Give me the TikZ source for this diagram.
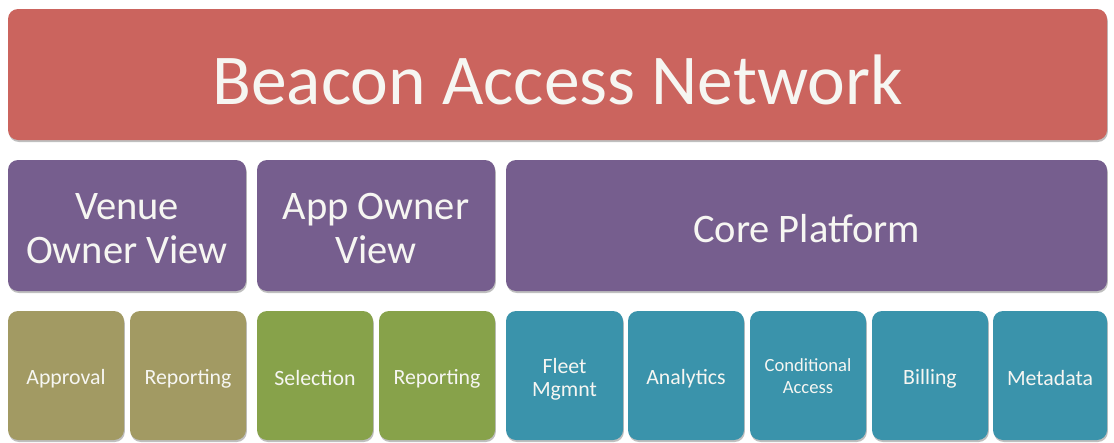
\documentclass[tikz,border=0pt]{standalone}
\usepackage{fontspec}
\setmainfont{Carlito}
\usetikzlibrary{shadows}
\definecolor{banred}{HTML}{CB645E}
\definecolor{banpurple}{HTML}{765E8E}
\definecolor{banolive}{HTML}{A29A63}
\definecolor{bangreen}{HTML}{87A24A}
\definecolor{banteal}{HTML}{3A93AB}
\definecolor{bantext}{HTML}{F6F6F2}
\tikzset{
  tile/.style={rounded corners=10pt, inner sep=0pt,
    drop shadow={shadow xshift=0.8pt, shadow yshift=-2pt, opacity=0.25, fill=black}},
  topbox/.style={tile, fill=banred, minimum width=1099pt, minimum height=131pt},
  midbox/.style={tile, fill=banpurple, minimum height=131pt},
  lowbox/.style={tile, minimum width=116pt, minimum height=129pt},
  tiletext/.style={inner sep=0pt, align=center, text=bantext},
  toptext/.style={tiletext, font=\fontsize{71.5}{84}\selectfont},
  midtext/.style={tiletext, font=\fontsize{40.5}{44}\selectfont},
  lowtext/.style={tiletext, font=\fontsize{21.8}{23}\selectfont},
  condtext/.style={tiletext, font=\fontsize{18.6}{22}\selectfont},
}
\begin{document}
\begin{tikzpicture}[x=1pt,y=-1pt]
\useasboundingbox[fill=white] (0,0) rectangle (1114,442);
\node[topbox] (ban) at (557.5,74.5) {};
\node[midbox, minimum width=238pt] (venue) at (127,225.5) {};
\node[midbox, minimum width=238pt] (app) at (376,225.5) {};
\node[midbox, minimum width=601pt] (core) at (806.5,225.5) {};
\node[lowbox, fill=banolive] (approval) at (66,375.5) {};
\node[lowbox, fill=banolive] (vreport) at (188,375.5) {};
\node[lowbox, fill=bangreen] (selection) at (315,375.5) {};
\node[lowbox, fill=bangreen] (areport) at (437,375.5) {};
\node[lowbox, fill=banteal, minimum width=117pt] (fleet) at (564.5,375.5) {};
\node[lowbox, fill=banteal] (analytics) at (686,375.5) {};
\node[lowbox, fill=banteal] (cond) at (808,375.5) {};
\node[lowbox, fill=banteal] (billing) at (930,375.5) {};
\node[lowbox, fill=banteal, minimum width=114pt] (meta) at (1050,375.5) {};
% texts
\node[toptext] (bantxt) at ([yshift=-5pt]ban.center) {Beacon Access Network};
\node[midtext] (venuetxt) at ([yshift=-3pt]venue.center) {Venue\\Owner View};
\node[midtext] (apptxt) at ([yshift=-3pt]app.center) {App Owner\\View};
\node[midtext] (coretxt) at ([yshift=-3pt]core.center) {Core Platform};
\node[lowtext] (approvaltxt) at ([yshift=-3pt]approval.center) {Approval};
\node[lowtext] (vreporttxt) at ([yshift=-3pt]vreport.center) {Reporting};
\node[lowtext] (selectiontxt) at ([yshift=-3pt]selection.center) {Selection};
\node[lowtext] (areporttxt) at ([yshift=-3pt]areport.center) {Reporting};
\node[lowtext] (fleettxt) at ([yshift=-4pt]fleet.center) {Fleet\\Mgmnt};
\node[lowtext] (analyticstxt) at ([yshift=-3pt]analytics.center) {Analytics};
\node[condtext] (condtxt) at ([yshift=-1pt]cond.center) {Conditional\\Access};
\node[lowtext] (billingtxt) at ([yshift=-3pt]billing.center) {Billing};
\node[lowtext] (metatxt) at ([yshift=-3pt]meta.center) {Metadata};
\end{tikzpicture}
\end{document}
